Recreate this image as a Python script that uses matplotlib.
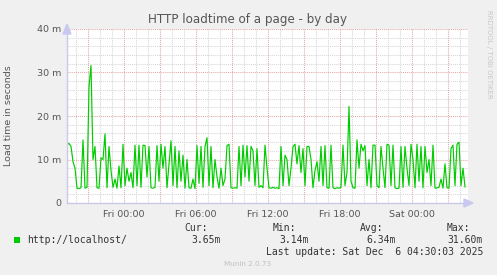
import numpy as np
import matplotlib
matplotlib.use("Agg")
import matplotlib.pyplot as plt
from matplotlib.patches import Polygon, Rectangle

# ---- data (minutes), 10-minute samples starting Thu ~19:17 ----
start_hour = -4.71          # hours relative to Fri 00:00
step_hour = 1.0 / 6.0
load_minutes = [
    13.4, 13.7, 13.0, 9.5, 8.0, 3.4, 3.3, 3.5, 14.5, 3.4,
    3.6, 26.7, 31.6, 10.0, 13.0, 3.5, 3.4, 10.4, 10.0, 15.9,
    3.5, 13.0, 7.5, 3.6, 5.5, 3.4, 8.5, 3.5, 13.5, 4.0,
    8.0, 5.0, 7.0, 3.5, 13.3, 4.0, 13.3, 3.6, 13.3, 13.2,
    6.0, 13.0, 3.5, 3.4, 3.6, 13.2, 5.0, 13.5, 8.0, 13.0,
    3.5, 9.0, 14.3, 4.0, 13.0, 3.5, 12.0, 5.0, 11.0, 3.4,
    10.0, 3.5, 3.4, 5.5, 3.3, 13.2, 4.5, 13.0, 3.6, 13.0,
    15.0, 4.0, 13.0, 3.5, 10.0, 6.0, 3.4, 8.0, 4.0, 5.5,
    13.2, 13.5, 3.5, 3.4, 3.5, 3.4, 13.0, 4.0, 13.3, 6.0,
    13.2, 5.0, 13.0, 12.0, 4.0, 12.5, 3.6, 4.0, 3.5, 13.3,
    8.0, 3.5, 3.4, 3.6, 3.4, 3.5, 3.3, 13.0, 4.0, 11.0,
    10.0, 4.0, 8.0, 13.0, 13.5, 9.0, 13.2, 7.0, 12.5, 4.0,
    13.0, 13.0, 10.0, 3.5, 7.5, 9.5, 5.0, 13.0, 4.0, 13.2,
    3.5, 3.4, 13.3, 3.5, 3.3, 3.5, 3.4, 3.6, 13.3, 4.0,
    7.0, 22.2, 5.0, 3.5, 3.4, 14.5, 8.0, 13.5, 12.0, 13.2,
    4.0, 10.0, 3.5, 13.3, 13.3, 4.0, 3.5, 13.0, 8.0, 3.5,
    13.5, 13.3, 4.0, 13.3, 3.5, 3.3, 3.4, 13.0, 3.6, 13.0,
    8.0, 4.0, 13.5, 10.0, 3.5, 13.5, 5.0, 13.0, 3.5, 13.0,
    7.0, 10.0, 4.0, 13.3, 3.4, 3.5, 3.6, 5.5, 3.4, 9.0,
    3.5, 3.4, 12.5, 13.3, 4.0, 13.5, 14.0, 4.0, 8.0, 3.7,
]
tick_hours = [0, 6, 12, 18, 24]
tick_labels = ["Fri 00:00", "Fri 06:00", "Fri 12:00", "Fri 18:00", "Sat 00:00"]
y_ticks = [0, 10, 20, 30, 40]
y_tick_labels = ["0", "10 m", "20 m", "30 m", "40 m"]
series_name = "http://localhost/"
stat_names = ["Cur:", "Min:", "Avg:", "Max:"]
stat_values = ["3.65m", "3.14m", "6.34m", "31.60m"]

W, H = 497, 275
fig = plt.figure(figsize=(W / 100, H / 100), dpi=100)
fig.patch.set_facecolor("#f0f0f0")

L, R, T, B = 67, 468, 29, 203
ax = fig.add_axes([L / W, 1 - B / H, (R - L) / W, (B - T) / H])
ax.set_facecolor("white")

x_end = start_hour + (R - L) / 12.0
ax.set_xlim(start_hour, x_end)
ax.set_ylim(0, 40)

# grid
dot = (0, (1, 1))
minor_c = "#d6d6d6"
major_c = "#e4a8a8"
for yy in np.arange(2, 40, 2):
    if yy % 10:
        ax.axhline(yy, color=minor_c, lw=0.75, ls=dot, zorder=1)
for hh in np.arange(np.ceil(start_hour), x_end, 1):
    if hh % 3:
        ax.axvline(hh, color=minor_c, lw=0.75, ls=dot, zorder=1)
for yy in [10, 20, 30, 40]:
    ax.axhline(yy, color=major_c, lw=0.75, ls=dot, zorder=1.1)
for hh in np.arange(-3, x_end, 3):
    ax.axvline(hh, color=major_c, lw=0.75, ls=dot, zorder=1.1)

xs = start_hour + step_hour * np.arange(len(load_minutes))
ax.plot(xs, load_minutes, color="#00cc00", lw=0.85, zorder=3)

for s in ax.spines.values():
    s.set_visible(False)
ax.axhline(0, color="#c8c8e8", lw=1.0, zorder=4, clip_on=False)
ax.axvline(start_hour, color="#c8c8e8", lw=1.0, zorder=4, clip_on=False)

ax.set_xticks(tick_hours)
ax.set_xticklabels(tick_labels)
ax.set_yticks(y_ticks)
ax.set_yticklabels(y_tick_labels)
ax.tick_params(axis="both", length=0, labelsize=6.8, labelcolor="#555555", pad=4)
ax.tick_params(axis="x", pad=5)
ax.set_ylabel("Load time in seconds", fontsize=6.8, color="#555555", labelpad=17)

# arrows
def px(x, y):
    return (x / W, 1 - y / H)
fig.patches.append(Polygon([px(464, 199), px(473, 203), px(464, 207)], closed=True,
                           transform=fig.transFigure, color="#c8c8f0", zorder=5))
fig.patches.append(Polygon([px(63, 34), px(67, 24), px(71, 34)], closed=True,
                           transform=fig.transFigure, color="#c8c8f0", zorder=5))

# title
fig.text(248 / W, 1 - 19 / H, "HTTP loadtime of a page - by day", ha="center", va="center",
         fontsize=8.6, color="#555555")
fig.text(489 / W, 1 - 54 / H, "RRDTOOL / TOBI OETIKER", rotation=270, ha="center", va="center",
         fontsize=5.0, color="#c8c8c8")

# legend
mono = "DejaVu Sans Mono"
fig.patches.append(Rectangle(px(14, 243), 6 / W, 6 / H, transform=fig.transFigure,
                             facecolor="#00cc00", edgecolor="none"))
fig.text(27 / W, 1 - 240 / H, series_name, ha="left", va="center", fontsize=7,
         family=mono, color="#333333")
name_x = [208, 296, 383, 470]
val_x = [221, 309, 396, 483]
for nm, vv, nx, vx in zip(stat_names, stat_values, name_x, val_x):
    fig.text(nx / W, 1 - 228 / H, nm, ha="right", va="center", fontsize=7, family=mono,
             color="#333333")
    fig.text(vx / W, 1 - 240 / H, vv, ha="right", va="center", fontsize=7, family=mono,
             color="#333333")
fig.text(483 / W, 1 - 252 / H, "Last update: Sat Dec  6 04:30:03 2025", ha="right", va="center",
         fontsize=7, family=mono, color="#333333")
fig.text(248 / W, 1 - 264 / H, "Munin 2.0.73", ha="center", va="center", fontsize=5.2,
         color="#c0c0c0")

fig.savefig("out.png", dpi=100, facecolor=fig.get_facecolor())
